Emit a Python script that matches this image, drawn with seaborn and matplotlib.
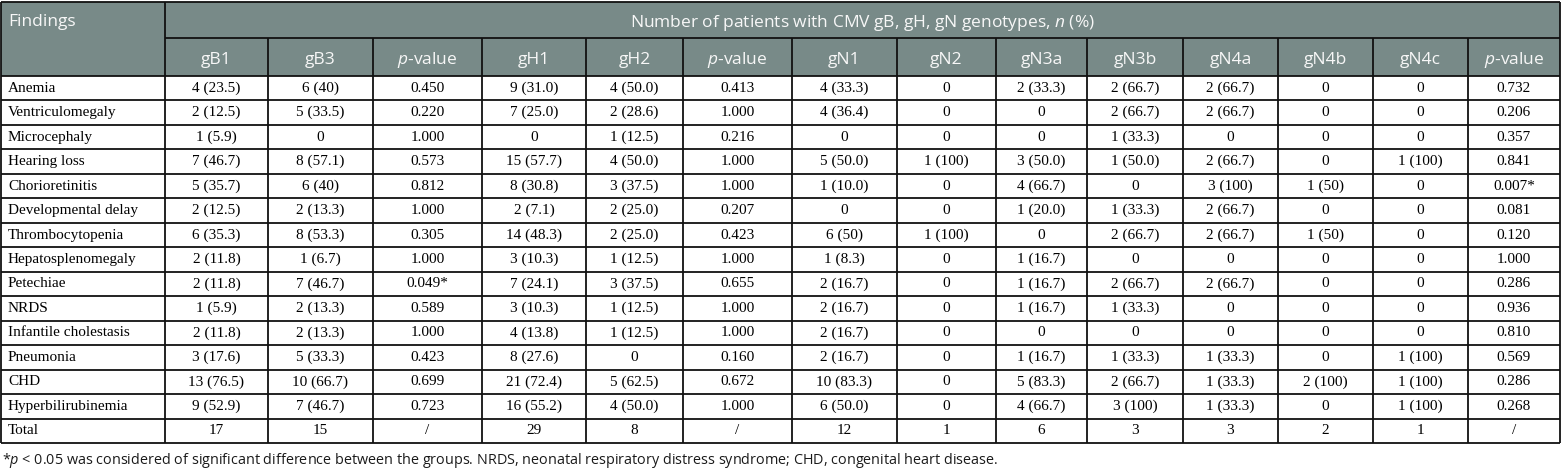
import numpy as np
import seaborn as sns
import matplotlib.pyplot as plt
from matplotlib.patches import Rectangle

# table content
findings = ["Anemia", "Ventriculomegaly", "Microcephaly", "Hearing loss", "Chorioretinitis",
            "Developmental delay", "Thrombocytopenia", "Hepatosplenomegaly", "Petechiae", "NRDS",
            "Infantile cholestasis", "Pneumonia", "CHD", "Hyperbilirubinemia", "Total"]

col_labels = ["gB1", "gB3", "$p$-value", "gH1", "gH2", "$p$-value", "gN1", "gN2",
              "gN3a", "gN3b", "gN4a", "gN4b", "gN4c", "$p$-value"]

gB1 = ["4 (23.5)", "2 (12.5)", "1 (5.9)", "7 (46.7)", "5 (35.7)", "2 (12.5)", "6 (35.3)",
       "2 (11.8)", "2 (11.8)", "1 (5.9)", "2 (11.8)", "3 (17.6)", "13 (76.5)", "9 (52.9)", "17"]
gB3 = ["6 (40)", "5 (33.5)", "0", "8 (57.1)", "6 (40)", "2 (13.3)", "8 (53.3)", "1 (6.7)",
       "7 (46.7)", "2 (13.3)", "2 (13.3)", "5 (33.3)", "10 (66.7)", "7 (46.7)", "15"]
p_gB = ["0.450", "0.220", "1.000", "0.573", "0.812", "1.000", "0.305", "1.000", "0.049*",
        "0.589", "1.000", "0.423", "0.699", "0.723", "/"]
gH1 = ["9 (31.0)", "7 (25.0)", "0", "15 (57.7)", "8 (30.8)", "2 (7.1)", "14 (48.3)", "3 (10.3)",
       "7 (24.1)", "3 (10.3)", "4 (13.8)", "8 (27.6)", "21 (72.4)", "16 (55.2)", "29"]
gH2 = ["4 (50.0)", "2 (28.6)", "1 (12.5)", "4 (50.0)", "3 (37.5)", "2 (25.0)", "2 (25.0)",
       "1 (12.5)", "3 (37.5)", "1 (12.5)", "1 (12.5)", "0", "5 (62.5)", "4 (50.0)", "8"]
p_gH = ["0.413", "1.000", "0.216", "1.000", "1.000", "0.207", "0.423", "1.000", "0.655",
        "1.000", "1.000", "0.160", "0.672", "1.000", "/"]
gN1 = ["4 (33.3)", "4 (36.4)", "0", "5 (50.0)", "1 (10.0)", "0", "6 (50)", "1 (8.3)",
       "2 (16.7)", "2 (16.7)", "2 (16.7)", "2 (16.7)", "10 (83.3)", "6 (50.0)", "12"]
gN2 = ["0", "0", "0", "1 (100)", "0", "0", "1 (100)", "0", "0", "0", "0", "0", "0", "0", "1"]
gN3a = ["2 (33.3)", "0", "0", "3 (50.0)", "4 (66.7)", "1 (20.0)", "0", "1 (16.7)", "1 (16.7)",
        "1 (16.7)", "0", "1 (16.7)", "5 (83.3)", "4 (66.7)", "6"]
gN3b = ["2 (66.7)", "2 (66.7)", "1 (33.3)", "1 (50.0)", "0", "1 (33.3)", "2 (66.7)", "0",
        "2 (66.7)", "1 (33.3)", "0", "1 (33.3)", "2 (66.7)", "3 (100)", "3"]
gN4a = ["2 (66.7)", "2 (66.7)", "0", "2 (66.7)", "3 (100)", "2 (66.7)", "2 (66.7)", "0",
        "2 (66.7)", "0", "0", "1 (33.3)", "1 (33.3)", "1 (33.3)", "3"]
gN4b = ["0", "0", "0", "0", "1 (50)", "0", "1 (50)", "0", "0", "0", "0", "0", "2 (100)", "0", "2"]
gN4c = ["0", "0", "0", "1 (100)", "0", "0", "0", "0", "0", "0", "0", "1 (100)", "1 (100)",
        "1 (100)", "1"]
p_gN = ["0.732", "0.206", "0.357", "0.841", "0.007*", "0.081", "0.120", "1.000", "0.286",
        "0.936", "0.810", "0.569", "0.286", "0.268", "/"]

columns = [gB1, gB3, p_gB, gH1, gH2, p_gH, gN1, gN2, gN3a, gN3b, gN4a, gN4b, gN4c, p_gN]

title = "Number of patients with CMV gB, gH, gN genotypes, $n$ (%)"
note = ("*$p$ < 0.05 was considered of significant difference between the groups. "
        "NRDS, neonatal respiratory distress syndrome; CHD, congenital heart disease.")

sns.set_theme(style="white")
plt.rcParams['mathtext.fontset'] = 'custom'
plt.rcParams['mathtext.rm'] = 'Open Sans'
plt.rcParams['mathtext.it'] = 'Open Sans:italic'

# layout (pixels)
edges = [1, 165, 268, 373, 482, 586, 683, 792, 897, 996, 1087, 1183, 1278, 1373, 1468, 1560]
top, split, head_bot, bot = 2, 38, 76, 443
n = len(findings)
row_y = np.linspace(head_bot, bot, n + 1)

head_bg = "#788a88"
head_fg = "#f7f7f7"
lc = "#111111"
lw = 1.3

fig = plt.figure(figsize=(15.61, 4.76), dpi=100)
ax = fig.add_axes([0, 0, 1, 1])
ax.set_xlim(0, 1561)
ax.set_ylim(476, 0)
ax.axis("off")

ax.add_patch(Rectangle((edges[0], top), edges[-1] - edges[0], head_bot - top,
                       facecolor=head_bg, edgecolor="none"))

# header text
ax.text(8, 22, "Findings", family="Open Sans", fontsize=12.5,
        color=head_fg, ha="left", va="center")
ax.text((edges[1] + edges[-1]) / 2, 23, title, family="Open Sans",
        fontsize=12.5, color=head_fg, ha="center", va="center")
for i, lab in enumerate(col_labels):
    xc = (edges[i + 1] + edges[i + 2]) / 2
    ax.text(xc, (split + head_bot) / 2 + 3, lab, family="Open Sans", fontsize=12.5,
            color=head_fg, ha="center", va="center")

# body text
for r, name in enumerate(findings):
    yc = (row_y[r] + row_y[r + 1]) / 2
    ax.text(8, yc, name, family="Liberation Serif", fontsize=11, color="black",
            ha="left", va="center")
    for i, col in enumerate(columns):
        xc = (edges[i + 1] + edges[i + 2]) / 2
        ax.text(xc, yc, col[r], family="Liberation Serif", fontsize=11, color="black",
                ha="center", va="center")

# grid lines
ax.hlines([top, head_bot, bot], edges[0], edges[-1], color=lc, lw=lw)
ax.hlines(split, edges[1], edges[-1], color=lc, lw=lw)
ax.hlines(row_y[1:-1], edges[0], edges[-1], color=lc, lw=lw)
ax.vlines([edges[0], edges[1], edges[-1]], top, bot, color=lc, lw=lw)
ax.vlines(edges[2:-1], split, bot, color=lc, lw=lw)

ax.text(2, 461, note, family="Open Sans", fontsize=10.4, color="#1a1a1a", ha="left", va="center")

plt.savefig("out.png", dpi=100)
